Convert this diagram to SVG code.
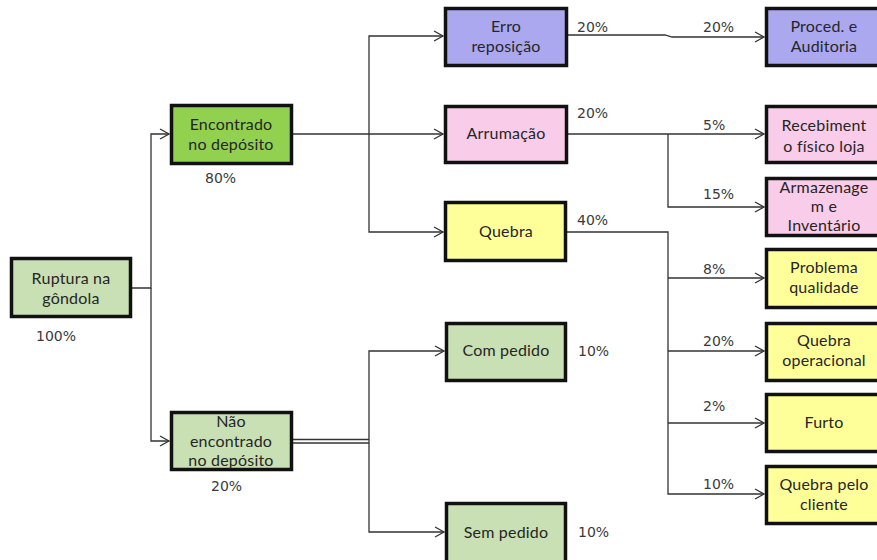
<svg xmlns="http://www.w3.org/2000/svg" width="877" height="560" viewBox="0 0 877 560">
<style>
.box{stroke:#111;stroke-width:3.5}
.t{font-family:Lato,"Open Sans",sans-serif;font-size:16px;fill:#262626;text-anchor:middle;letter-spacing:0.2px}
.p{font-family:"DejaVu Sans",sans-serif;font-size:14px;fill:#3a3a3a}
.c{fill:none;stroke:#333;stroke-width:1.3}
.lav{fill:#ABA8F0}.pink{fill:#F9CDE9}.yel{fill:#FFFF99}.lg{fill:#C8E0B4}.g{fill:#92D050}
</style>
<defs>
<marker id="a" markerWidth="12" markerHeight="12" refX="10" refY="6" orient="auto" markerUnits="userSpaceOnUse">
<path d="M1,1 L10,6 L1,11" fill="none" stroke="#333" stroke-width="1.3"/>
</marker>
</defs>
<rect width="877" height="560" fill="#fff"/>
<g id="connectors">
<path class="c" d="M132,288 H151 V134 H169" marker-end="url(#a)"/>
<path class="c" d="M151,288 V441 H169" marker-end="url(#a)"/>
<path class="c" d="M293,134 H369 V36 H443" marker-end="url(#a)"/>
<path class="c" d="M369,134 H443" marker-end="url(#a)"/>
<path class="c" d="M369,134 V232 H443" marker-end="url(#a)"/>
<path class="c" d="M293,439.5 H369"/>
<path class="c" d="M293,443 H369"/>
<path class="c" d="M369,441 V351 H444" marker-end="url(#a)"/>
<path class="c" d="M369,441 V532 H444" marker-end="url(#a)"/>
<path class="c" d="M568,35 H665 L672,37 H764" marker-end="url(#a)"/>
<path class="c" d="M568,134 H764" marker-end="url(#a)"/>
<path class="c" d="M668,134 V207 H764" marker-end="url(#a)"/>
<path class="c" d="M567,232 H668 V494 H764" marker-end="url(#a)"/>
<path class="c" d="M668,278 H764" marker-end="url(#a)"/>
<path class="c" d="M668,351 H764" marker-end="url(#a)"/>
<path class="c" d="M668,423 H764" marker-end="url(#a)"/>
</g>
<g id="labels">
<text class="p" x="36" y="341">100%</text>
<text class="p" x="205" y="183">80%</text>
<text class="p" x="211" y="491">20%</text>
<text class="p" x="577" y="32">20%</text>
<text class="p" x="703" y="32">20%</text>
<text class="p" x="577" y="118">20%</text>
<text class="p" x="703" y="130">5%</text>
<text class="p" x="703" y="199">15%</text>
<text class="p" x="577" y="225">40%</text>
<text class="p" x="703" y="274">8%</text>
<text class="p" x="703" y="346">20%</text>
<text class="p" x="703" y="411">2%</text>
<text class="p" x="703" y="489">10%</text>
<text class="p" x="578" y="356">10%</text>
<text class="p" x="578" y="537">10%</text>
</g>
<g id="n-ruptura"><rect class="box lg" x="11.5" y="258.5" width="119" height="58"/><text class="t" x="71" y="284">Ruptura na</text><text class="t" x="71" y="304">gôndola</text></g>
<g id="n-encontrado"><rect class="box g" x="171.5" y="105.5" width="120" height="58"/><text class="t" x="231" y="130">Encontrado</text><text class="t" x="231" y="150">no depósito</text></g>
<g id="n-nao"><rect class="box lg" x="171.5" y="412.5" width="120" height="57"/><text class="t" x="231" y="427">Não</text><text class="t" x="231" y="447">encontrado</text><text class="t" x="231" y="466">no depósito</text></g>
<g id="n-erro"><rect class="box lav" x="445.5" y="8.5" width="121" height="57"/><text class="t" x="506" y="32">Erro</text><text class="t" x="506" y="52">reposição</text></g>
<g id="n-arrumacao"><rect class="box pink" x="445.5" y="106.5" width="121" height="56"/><text class="t" x="506" y="139">Arrumação</text></g>
<g id="n-quebra"><rect class="box yel" x="445.5" y="202.5" width="120" height="58"/><text class="t" x="506" y="237">Quebra</text></g>
<g id="n-com"><rect class="box lg" x="446.5" y="323.5" width="119" height="57"/><text class="t" x="506" y="356">Com pedido</text></g>
<g id="n-sem"><rect class="box lg" x="446.5" y="503.5" width="119" height="60"/><text class="t" x="506" y="538">Sem pedido</text></g>
<g id="n-proced"><rect class="box lav" x="766.5" y="8.5" width="120" height="57"/><text class="t" x="824" y="32">Proced. e</text><text class="t" x="824" y="52">Auditoria</text></g>
<g id="n-receb"><rect class="box pink" x="766.5" y="106.5" width="120" height="56"/><text class="t" x="824" y="131">Recebiment</text><text class="t" x="824" y="152">o físico loja</text></g>
<g id="n-armaz"><rect class="box pink" x="766.5" y="178.5" width="120" height="57"/><text class="t" x="824" y="193">Armazenage</text><text class="t" x="824" y="212">m e</text><text class="t" x="824" y="231">Inventário</text></g>
<g id="n-problema"><rect class="box yel" x="766.5" y="249.5" width="120" height="58"/><text class="t" x="824" y="273">Problema</text><text class="t" x="824" y="293">qualidade</text></g>
<g id="n-qop"><rect class="box yel" x="766.5" y="323.5" width="120" height="57"/><text class="t" x="824" y="346">Quebra</text><text class="t" x="824" y="366">operacional</text></g>
<g id="n-furto"><rect class="box yel" x="766.5" y="394.5" width="120" height="57"/><text class="t" x="824" y="428">Furto</text></g>
<g id="n-qcli"><rect class="box yel" x="766.5" y="466.5" width="120" height="57"/><text class="t" x="824" y="490">Quebra pelo</text><text class="t" x="824" y="510">cliente</text></g>
</svg>
